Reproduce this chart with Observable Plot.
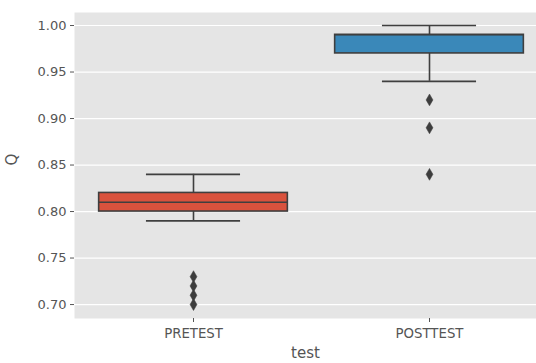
<!DOCTYPE html>
<html>
<head>
<meta charset="utf-8">
<script src="https://cdn.jsdelivr.net/npm/d3@7"></script>
<script src="https://cdn.jsdelivr.net/npm/@observablehq/plot@0.6"></script>
<style>
  html, body { margin: 0; padding: 0; background: #fff; overflow: hidden; }
  #chart svg { display: block; }
</style>
</head>
<body>
<div id="chart"></div>
<script>
const categories = ["PRETEST", "POSTTEST"];
const whiskerLow = [0.79, 0.94];
const q1 = [0.80, 0.97];
const median = [0.81, 0.99];
const q3 = [0.82, 0.99];
const whiskerHigh = [0.84, 1.00];
const boxColors = ["#d9523d", "#3a88b9"];
const outliersPre = [0.73, 0.72, 0.71, 0.70];
const outliersPost = [0.92, 0.89, 0.84];
const yTicks = [0.70, 0.75, 0.80, 0.85, 0.90, 0.95, 1.00];

const boxes = categories.map((c, i) => ({
  test: c, lo: whiskerLow[i], q1: q1[i], med: median[i], q3: q3[i], hi: whiskerHigh[i], color: boxColors[i]
}));
const outliers = [
  ...outliersPre.map(v => ({test: "PRETEST", Q: v})),
  ...outliersPost.map(v => ({test: "POSTTEST", Q: v}))
];

const W = 536, H = 363;
const left = 74, right = 547;
const band = (right - left) / 2;
const boxInset = band * 0.1;
const capInset = band * 0.3;
const edge = "#3f3f3f";

const chart = Plot.plot({
  width: W,
  height: H,
  marginLeft: left,
  marginRight: 0,
  marginTop: 12,
  marginBottom: 45,
  style: {fontFamily: "DejaVu Sans", fontSize: "13px", color: "#555", background: "#fff"},
  x: {domain: categories, range: [left, right], padding: 0, label: null},
  y: {domain: [0.685, 1.014], ticks: yTicks, tickFormat: d3.format(".2f"), label: null},
  marks: [
    Plot.frame({fill: "#e5e5e5", stroke: null}),
    Plot.gridY(yTicks, {stroke: "#fff", strokeOpacity: 1, strokeWidth: 1.2}),
    Plot.axisY({ticks: yTicks, tickFormat: d3.format(".2f"), tickSize: 4, tickPadding: 4, stroke: "#555", fill: "#555", label: null}),
    Plot.axisX({tickSize: 4, tickPadding: 6, stroke: "#555", fill: "#555", label: null, fontSize: 13.3}),
    Plot.ruleX(boxes, {x: "test", y1: "lo", y2: "q1", stroke: edge, strokeWidth: 1.6}),
    Plot.ruleX(boxes, {x: "test", y1: "q3", y2: "hi", stroke: edge, strokeWidth: 1.6}),
    Plot.tickY(boxes, {x: "test", y: "lo", stroke: edge, strokeWidth: 1.6, insetLeft: capInset, insetRight: capInset}),
    Plot.tickY(boxes, {x: "test", y: "hi", stroke: edge, strokeWidth: 1.6, insetLeft: capInset, insetRight: capInset}),
    Plot.barY(boxes, {x: "test", y1: "q1", y2: "q3", fill: "color", stroke: edge, strokeWidth: 1.6, insetLeft: boxInset, insetRight: boxInset}),
    Plot.tickY(boxes, {x: "test", y: "med", stroke: edge, strokeWidth: 1.6, insetLeft: boxInset, insetRight: boxInset}),
    Plot.dot(outliers, {x: "test", y: "Q", symbol: "diamond", r: 3.6, fill: "#3d3d3d", stroke: "#3d3d3d", strokeWidth: 0.5}),
    Plot.text(["Q"], {frameAnchor: "left", dx: -62, rotate: -90, fontSize: 15, fill: "#555"}),
    Plot.text(["test"], {frameAnchor: "bottom", dy: 39, fontSize: 15, fill: "#555"})
  ]
});
document.getElementById("chart").appendChild(chart);
</script>
</body>
</html>
